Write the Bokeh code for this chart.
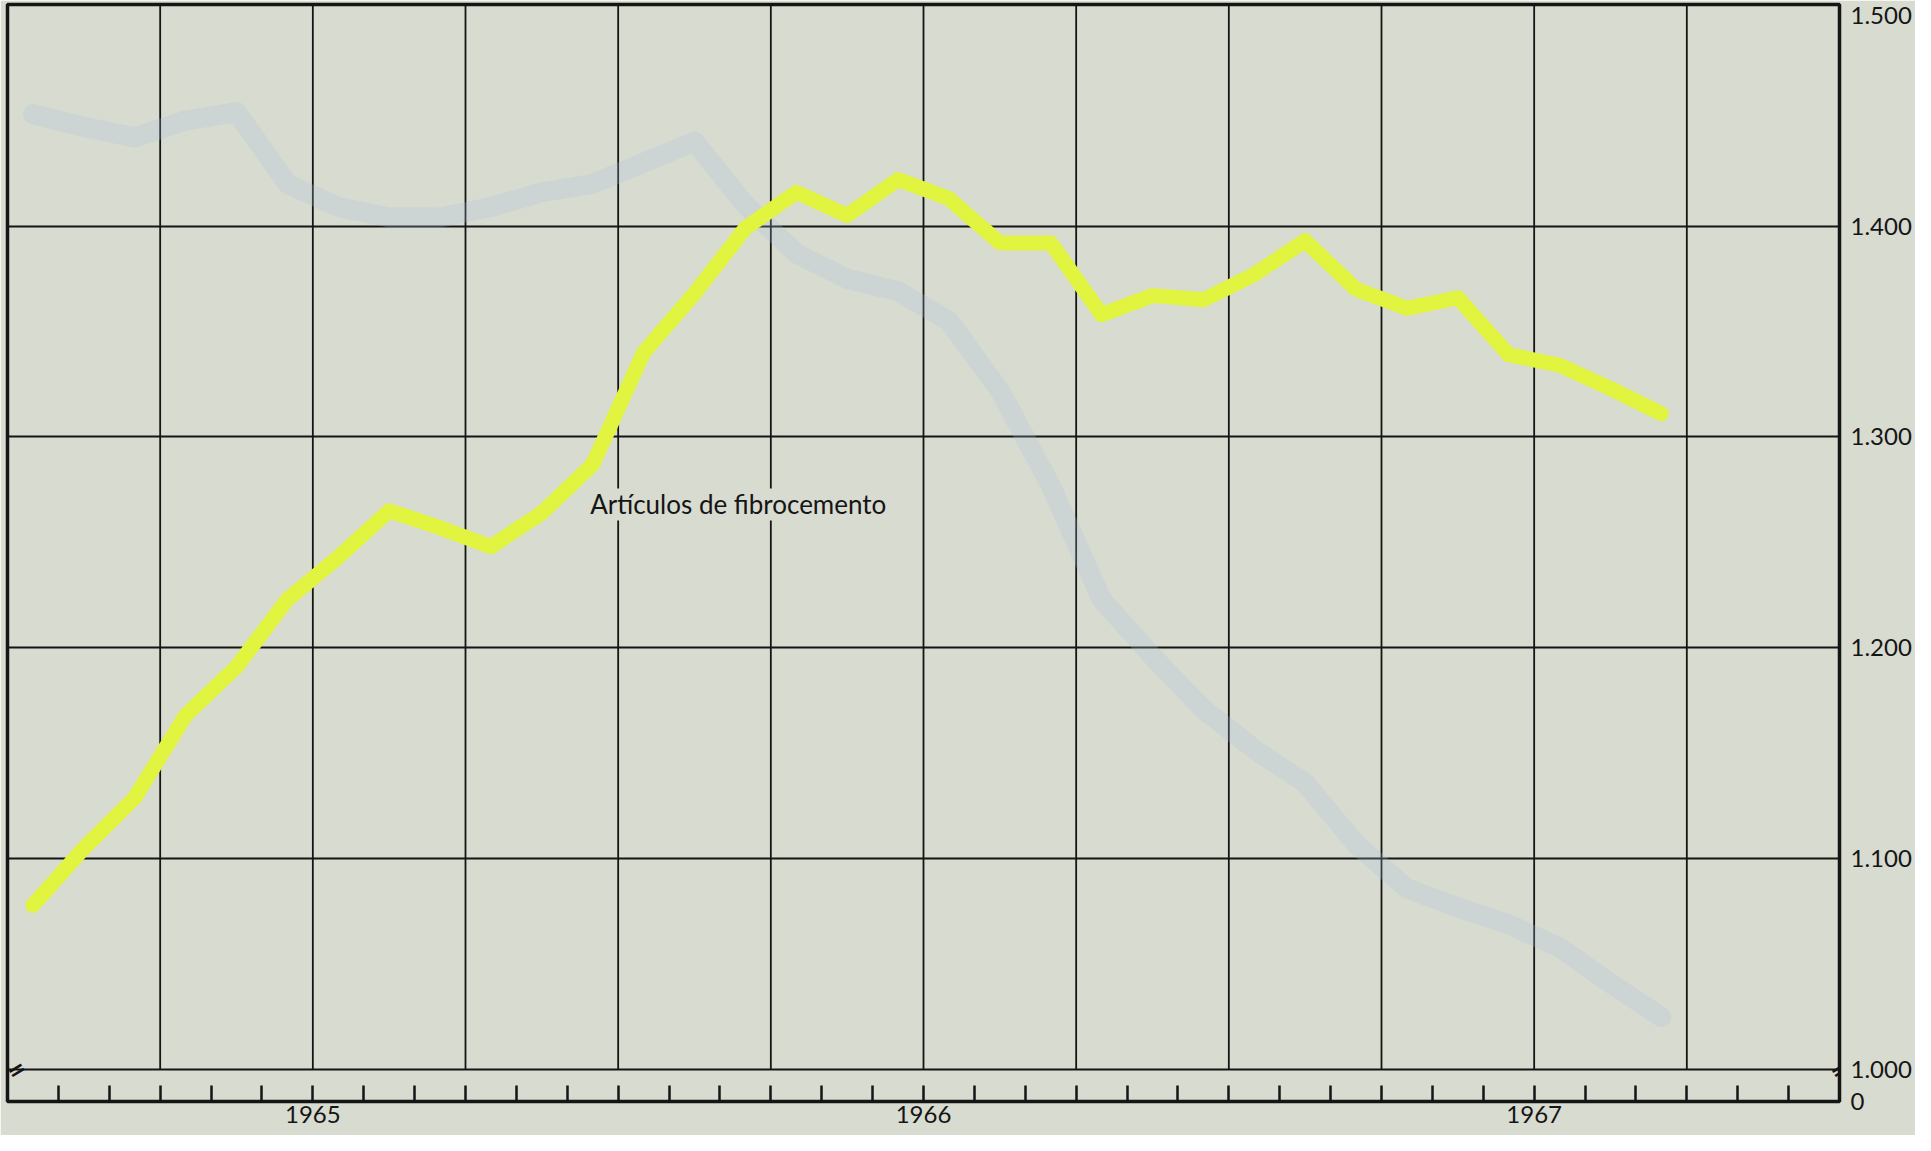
from bokeh.plotting import figure
from bokeh.models import FixedTicker, Label
from bokeh.embed import file_html
from bokeh.resources import INLINE

# ---- data (monthly, Jan 1965 .. Sep 1967; values in units, 1.000 = 1000) ----
month_index = list(range(33))
fibrocemento = [1078, 1105, 1129, 1168, 1191, 1223, 1243, 1265, 1257, 1248, 1264, 1287,
                1340, 1368, 1399, 1416, 1405, 1422, 1413, 1392, 1392, 1358, 1367, 1365,
                1377, 1393, 1370, 1361, 1366, 1339, 1334, 1323, 1311]
# faint series showing through the paper from the reverse side
ghost_series = [1453, 1447, 1442, 1450, 1454, 1420, 1409, 1404, 1404, 1409, 1416, 1420,
                1430, 1440, 1410, 1387, 1375, 1369, 1355, 1322, 1277, 1223, 1196, 1171,
                1152, 1136, 1107, 1086, 1077, 1069, 1058, 1041, 1025]

month_ticks = list(range(1, 36))
quarter_lines = list(range(3, 36, 3))
year_labels = {6: "1965", 18: "1966", 30: "1967"}
y_ticks = [1000, 1100, 1200, 1300, 1400, 1500]
y_tick_labels = ["1.000", "1.100", "1.200", "1.300", "1.400", "1.500"]
y_zero_tick = 985
y_zero_label = "0"
y_top = 1505
grid_values = [1000, 1100, 1200, 1300, 1400]
series_label = "Artículos de fibrocemento"
series_label_at = (11.45, 1268)

PAPER = "#d8dbd0"
INK = "#151515"
FONT = "Lato"

x_mid = [m + 0.5 for m in month_index]

p = figure(width=1915, height=1135, x_range=(0, 36), y_range=(y_zero_tick, y_top),
           output_backend="svg", toolbar_location=None, y_axis_location="right",
           min_border_left=7, min_border_right=76, min_border_top=4, min_border_bottom=34)

p.background_fill_color = PAPER
p.border_fill_color = PAPER
p.outline_line_color = INK
p.outline_line_width = 3.5

# horizontal grid
p.xgrid.grid_line_color = None
p.ygrid.ticker = FixedTicker(ticks=grid_values)
p.ygrid.grid_line_color = INK
p.ygrid.grid_line_width = 1.8

# vertical quarter lines (stop at the 1.000 line)
p.segment(x0=quarter_lines, x1=quarter_lines,
          y0=[y_ticks[0]] * len(quarter_lines), y1=[y_top] * len(quarter_lines),
          line_color=INK, line_width=1.8)

# ghost series (very faint)
p.line(x_mid, ghost_series, line_color="#a9c3dc", line_alpha=0.24, line_width=20,
       line_join="round", line_cap="round")

# main series
p.line(x_mid, fibrocemento, line_color="#e0f440", line_width=15,
       line_join="round", line_cap="round")

# right axis
ya = p.yaxis[0]
ya.ticker = FixedTicker(ticks=[y_zero_tick] + y_ticks)
ov = {t: l for t, l in zip(y_ticks, y_tick_labels)}
ov[y_zero_tick] = y_zero_label
ya.major_label_overrides = ov
ya.axis_line_color = None
ya.major_tick_line_color = None
ya.major_tick_out = 0
ya.major_tick_in = 0
ya.minor_tick_line_color = None
ya.minor_tick_out = 0
ya.axis_label_standoff = 0
ya.major_label_standoff = 11
ya.major_label_text_font = FONT
ya.major_label_text_font_size = "24px"
ya.major_label_text_color = INK

# bottom axis: month ticks inside the lower strip, year labels below
xa = p.xaxis[0]
xa.ticker = FixedTicker(ticks=month_ticks)
xa.major_label_overrides = {t: year_labels.get(t, "") for t in month_ticks}
xa.axis_line_color = None
xa.major_tick_in = 16
xa.major_tick_out = 0
xa.major_tick_line_color = INK
xa.major_tick_line_width = 2.5
xa.minor_tick_line_color = None
xa.minor_tick_out = 0
xa.axis_label_standoff = 0
xa.major_label_standoff = 4
xa.major_label_text_font = FONT
xa.major_label_text_font_size = "24px"
xa.major_label_text_color = INK

# series label
p.add_layout(Label(x=series_label_at[0], y=series_label_at[1], text=series_label,
                   text_font=FONT, text_font_size="26px", text_color=INK,
                   text_baseline="middle", text_align="left",
                   background_fill_color=PAPER))

# axis break marks
for bx, off in ((0, 9), (36, 0)):
    p.add_layout(Label(x=bx, y=y_ticks[0], text="=", angle=0.55, x_offset=off,
                       text_font="DejaVu Sans", text_font_style="bold",
                       text_font_size="22px", text_color=INK,
                       text_align="center", text_baseline="middle"))

open("out.html", "w").write(file_html(p, INLINE))
